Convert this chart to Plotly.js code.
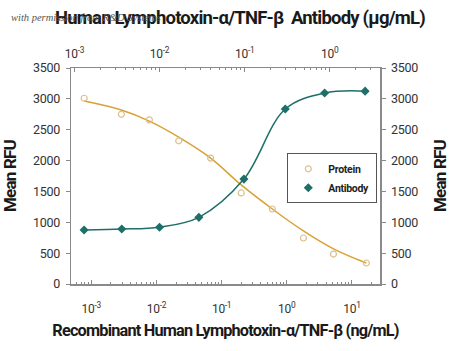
<!DOCTYPE html>
<html><head><meta charset="utf-8">
<script src="https://cdn.plot.ly/plotly-3.0.1.min.js"></script>
<style>
html,body{margin:0;padding:0;background:#fff}#c{width:450px;height:351px}
#c .gtitle, #c .xtitle, #c .ytitle, #c .y2title {letter-spacing:-0.8px}
#c .xtick text, #c .x2tick text, #c .ytick text, #c .y2tick text, #c .legendtext {letter-spacing:-0.3px}
</style>
</head><body><div id="c"></div>
<script>
// Recombinant protein (ng/mL) – bottom axis
const proteinConc = [0.00078, 0.0029, 0.0078, 0.022, 0.068, 0.20, 0.60, 1.8, 5.2, 16.6];
const proteinRFU  = [3010, 2750, 2660, 2320, 2040, 1475, 1215, 745, 485, 340];
const proteinFit  = [2965, 2820, 2640, 2380, 2040, 1605, 1215, 860, 570, 340];
// Antibody (µg/mL) – top axis
const antibodyConc = [0.0013, 0.0036, 0.010, 0.029, 0.098, 0.30, 0.87, 2.6];
const antibodyRFU  = [875, 890, 920, 1080, 1700, 2835, 3095, 3125];
// Tick labels
const bottomTickVals = [0.001, 0.01, 0.1, 1, 10];
const bottomTickText = ['10<sup>-3</sup>', '10<sup>-2</sup>', '10<sup>-1</sup>', '10<sup>0</sup>', '10<sup>1</sup>'];
const topTickVals = [0.001, 0.01, 0.1, 1];
const topTickText = ['10<sup>-3</sup>', '10<sup>-2</sup>', '10<sup>-1</sup>', '10<sup>0</sup>'];
const yTickVals = [0, 500, 1000, 1500, 2000, 2500, 3000, 3500];

function minorTicks(lo, hi) {
  const out = [];
  for (let e = lo; e <= hi; e++) for (let m = 2; m <= 9; m++) out.push(m * Math.pow(10, e));
  return out;
}

const FONT = 'Roboto, "Liberation Sans", Arial, sans-serif';
const protCol = '#D9A035', protMk = '#DDBE8C', abCol = '#1E6F68';
const TCOL = '#1a1a1a';

const traces = [
  {x: proteinConc, y: proteinFit, mode: 'lines', line: {color: protCol, width: 1.5, shape: 'spline', smoothing: 1}, showlegend: false, hoverinfo: 'skip', xaxis: 'x', yaxis: 'y'},
  {x: proteinConc, y: proteinRFU, mode: 'markers', name: 'Protein', marker: {symbol: 'circle-open', size: 6, color: protMk, line: {width: 1.2}}, xaxis: 'x', yaxis: 'y'},
  {x: antibodyConc, y: antibodyRFU, mode: 'lines', line: {color: abCol, width: 1.5, shape: 'spline', smoothing: 1}, showlegend: false, hoverinfo: 'skip', xaxis: 'x2', yaxis: 'y2'},
  {x: antibodyConc, y: antibodyRFU, mode: 'markers', name: 'Antibody', marker: {symbol: 'diamond', size: 7, color: abCol}, xaxis: 'x2', yaxis: 'y2'}
];

const axCommon = {showgrid: false, zeroline: false, showline: true, linecolor: '#8a8a8a', linewidth: 1.5,
  tickcolor: '#8a8a8a', ticklen: 4, tickwidth: 1, tickfont: {family: FONT, size: 12, color: '#333'}};

const layout = {
  width: 450, height: 351,
  margin: {l: 71, r: 70, t: 68, b: 67},
  paper_bgcolor: '#fff', plot_bgcolor: '#fff',
  font: {family: FONT},
  title: {text: '<b>Human Lymphotoxin-α/TNF-β  Antibody (µg/mL)</b>', font: {family: FONT, size: 18.5, color: TCOL},
    x: 55/450, xanchor: 'left', y: 1 - 18/351, yanchor: 'middle', xref: 'container', yref: 'container'},
  xaxis: Object.assign({}, axCommon, {type: 'log', range: [-3.31, 1.43], ticks: 'inside',
    tickmode: 'array', tickvals: bottomTickVals, ticktext: bottomTickText, ticklabelstandoff: 13,
    minor: {tickmode: 'array', tickvals: minorTicks(-4, 1), ticks: 'inside', ticklen: 2, tickcolor: '#8a8a8a'},
    title: {text: '<b>Recombinant Human Lymphotoxin-α/TNF-β (ng/mL)</b>', font: {family: FONT, size: 16.3, color: TCOL}, standoff: 9},
    anchor: 'y'}),
  xaxis2: Object.assign({}, axCommon, {type: 'log', range: [-3.04, 0.59], ticks: 'inside', side: 'top', overlaying: 'x',
    tickmode: 'array', tickvals: topTickVals, ticktext: topTickText, ticklabelstandoff: 4,
    minor: {tickmode: 'array', tickvals: minorTicks(-4, 0), ticks: 'inside', ticklen: 2, tickcolor: '#8a8a8a'},
    anchor: 'y'}),
  yaxis: Object.assign({}, axCommon, {range: [0, 3500], ticks: 'outside', tickmode: 'array', tickvals: yTickVals,
    ticklabelstandoff: 3, tickfont: {family: FONT, size: 12.5, color: '#333'},
    title: {text: '<b>Mean RFU</b>', font: {family: FONT, size: 17, color: TCOL}, standoff: 11}}),
  yaxis2: Object.assign({}, axCommon, {range: [0, 3500], ticks: 'outside', side: 'right', overlaying: 'y', anchor: 'x',
    tickmode: 'array', tickvals: yTickVals, ticklabelstandoff: 3, tickfont: {family: FONT, size: 12.5, color: '#333'},
    title: {text: '<b>Mean RFU</b>', font: {family: FONT, size: 17, color: TCOL}, standoff: 20}}),
  legend: {x: 0.70, y: 0.605, xanchor: 'left', yanchor: 'top', bgcolor: '#fff', bordercolor: '#555', borderwidth: 1,
    font: {family: FONT, size: 10.5, color: '#222', weight: 'bold'}, itemwidth: 30, tracegroupgap: 0},
  annotations: [{text: '<i>with permission from R&amp;D Systems</i>', xref: 'paper', yref: 'paper', x: -0.2, y: 1.235,
    xanchor: 'left', yanchor: 'middle', showarrow: false, font: {family: '"Liberation Serif", serif', size: 10.5, color: '#555'}}]
};

Plotly.newPlot('c', traces, layout, {staticPlot: true, displayModeBar: false});
</script></body></html>
